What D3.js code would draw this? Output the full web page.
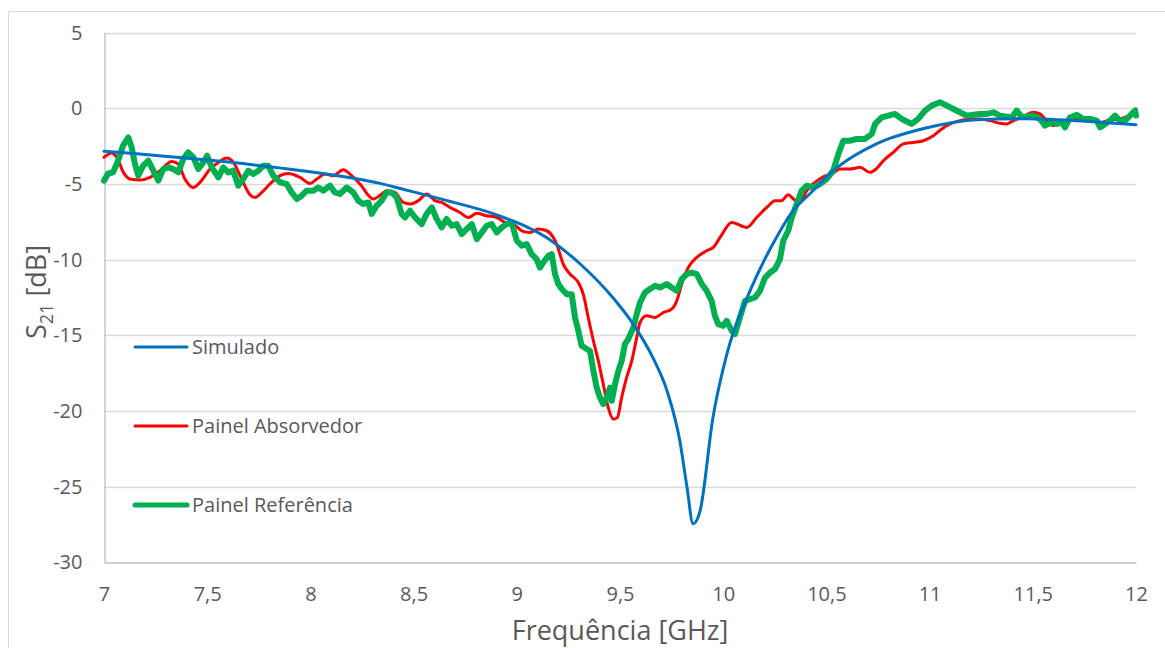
<!DOCTYPE html>
<html>
<head>
<meta charset="utf-8">
<script src="https://cdn.jsdelivr.net/npm/d3@7"></script>
<style>
  body { margin: 0; background: #fff; }
  text { font-family: "Open Sans", sans-serif; fill: #595959; }
</style>
</head>
<body>
<div id="vis"></div>
<script>
// chart data (frequency in GHz, S21 in dB)
var xTicks = [7, 7.5, 8, 8.5, 9, 9.5, 10, 10.5, 11, 11.5, 12];
var yTicks = [5, 0, -5, -10, -15, -20, -25, -30];
var seriesNames = ["Simulado", "Painel Absorvedor", "Painel Referência"];

var simulado = [
  [7.0,-2.84],[7.5,-3.42],[7.95,-4.1],[8.2,-4.6],[8.337,-4.96],[8.45,-5.35],[8.662,-6.1],[8.885,-6.96],
  [9.146,-8.55],[9.306,-10.27],[9.466,-12.52],[9.563,-14.24],[9.66,-16.49],[9.728,-18.67],
  [9.79,-21.98],[9.825,-25.08],[9.854,-27.46],[9.888,-26.6],[9.95,-20.46],[10.018,-16.22],
  [10.13,-12.06],[10.241,-8.95],[10.338,-6.77],[10.42,-5.64],[10.551,-3.92],[10.745,-2.33],
  [10.987,-1.28],[11.23,-0.75],[11.472,-0.68],[11.792,-0.88],[12.0,-1.08]
];

var absorvedor = [
  [7.0,-3.24],[7.037,-2.95],[7.062,-3.24],[7.094,-4.23],[7.126,-4.67],[7.174,-4.74],[7.223,-4.56],
  [7.271,-4.12],[7.328,-3.51],[7.36,-3.68],[7.392,-4.67],[7.433,-5.23],[7.465,-4.89],[7.514,-4.01],
  [7.554,-3.57],[7.595,-3.28],[7.627,-3.57],[7.667,-4.67],[7.707,-5.71],[7.732,-5.89],[7.764,-5.56],
  [7.804,-5.0],[7.853,-4.45],[7.893,-4.3],[7.95,-4.56],[7.998,-4.96],[8.031,-4.67],[8.071,-4.34],
  [8.111,-4.45],[8.159,-4.05],[8.2,-4.45],[8.24,-5.0],[8.305,-5.99],[8.346,-5.66],[8.37,-5.44],
  [8.41,-5.56],[8.45,-6.22],[8.483,-6.32],[8.523,-6.1],[8.564,-5.66],[8.604,-6.1],[8.636,-6.22],
  [8.676,-6.55],[8.725,-6.88],[8.765,-7.21],[8.806,-6.94],[8.854,-7.1],[8.903,-7.21],[8.943,-7.54],
  [8.983,-7.65],[9.024,-8.09],[9.064,-8.2],[9.104,-7.98],[9.145,-8.09],[9.177,-8.53],[9.193,-8.97],
  [9.225,-10.29],[9.258,-10.95],[9.298,-11.51],[9.322,-12.28],[9.346,-13.82],[9.371,-15.36],
  [9.395,-16.69],[9.419,-18.23],[9.443,-19.78],[9.468,-20.54],[9.487,-20.44],[9.508,-19.11],
  [9.532,-17.79],[9.557,-16.69],[9.581,-15.15],[9.597,-14.15],[9.629,-13.71],[9.67,-13.82],
  [9.71,-13.49],[9.75,-13.27],[9.775,-12.72],[9.799,-11.61],[9.831,-10.52],[9.872,-9.85],
  [9.92,-9.41],[9.952,-9.19],[9.985,-8.53],[10.041,-7.54],[10.114,-7.87],[10.162,-7.21],
  [10.211,-6.55],[10.251,-6.1],[10.283,-6.1],[10.315,-5.71],[10.34,-5.99],[10.372,-6.22],
  [10.405,-5.44],[10.445,-4.89],[10.485,-4.52],[10.526,-4.34],[10.566,-4.01],[10.614,-4.01],
  [10.663,-3.9],[10.711,-4.23],[10.745,-3.95],[10.776,-3.46],[10.824,-2.91],[10.873,-2.35],
  [10.921,-2.25],[10.97,-2.14],[11.018,-1.81],[11.059,-1.36],[11.099,-1.03],[11.147,-0.81],
  [11.196,-0.7],[11.244,-0.7],[11.293,-0.81],[11.341,-0.99],[11.374,-1.03],[11.406,-0.81],
  [11.454,-0.55],[11.502,-0.26],[11.535,-0.37],[11.567,-0.81],[11.599,-1.14],[11.632,-0.93],
  [11.68,-0.81],[11.729,-0.7],[11.777,-0.77],[11.826,-0.93],[11.874,-0.77],[11.922,-0.7],
  [11.971,-0.42],[12.0,-0.04]
];

var referencia = [
  [7.0,-4.78],[7.019,-4.32],[7.044,-4.23],[7.068,-3.46],[7.092,-2.47],[7.118,-1.92],[7.134,-2.58],
  [7.15,-3.68],[7.166,-4.45],[7.19,-3.79],[7.215,-3.46],[7.239,-4.12],[7.263,-4.78],[7.287,-4.01],
  [7.312,-3.9],[7.336,-4.01],[7.36,-4.23],[7.384,-3.35],[7.408,-2.91],[7.433,-3.24],[7.457,-4.01],
  [7.481,-3.57],[7.5,-3.13],[7.522,-3.9],[7.554,-4.56],[7.578,-3.9],[7.602,-4.23],[7.626,-4.12],
  [7.651,-5.11],[7.675,-4.67],[7.699,-4.12],[7.723,-4.34],[7.748,-4.12],[7.772,-3.79],[7.796,-3.79],
  [7.82,-4.45],[7.853,-4.89],[7.885,-5.0],[7.909,-5.56],[7.934,-5.99],[7.958,-5.77],[7.982,-5.44],
  [8.014,-5.44],[8.038,-5.23],[8.063,-5.44],[8.095,-5.11],[8.119,-5.56],[8.143,-5.66],[8.176,-5.23],
  [8.208,-5.56],[8.232,-6.1],[8.256,-6.32],[8.281,-6.22],[8.297,-6.98],[8.321,-6.44],[8.345,-6.1],
  [8.37,-5.56],[8.394,-5.56],[8.418,-5.89],[8.442,-6.98],[8.458,-7.21],[8.483,-6.77],[8.507,-7.21],
  [8.539,-7.65],[8.563,-6.98],[8.588,-6.55],[8.612,-7.31],[8.636,-7.87],[8.66,-7.31],[8.685,-7.76],
  [8.709,-7.65],[8.733,-8.31],[8.757,-7.98],[8.782,-7.65],[8.806,-8.64],[8.83,-8.2],[8.854,-7.76],
  [8.878,-7.65],[8.903,-8.2],[8.927,-7.87],[8.951,-7.65],[8.975,-7.54],[9.0,-8.75],[9.024,-9.08],
  [9.048,-8.97],[9.072,-9.63],[9.096,-9.96],[9.112,-10.52],[9.128,-10.19],[9.153,-9.74],[9.169,-9.63],
  [9.185,-10.95],[9.201,-11.61],[9.218,-11.94],[9.242,-12.28],[9.266,-12.28],[9.282,-13.82],
  [9.298,-14.7],[9.314,-15.69],[9.339,-15.91],[9.355,-16.03],[9.371,-17.35],[9.387,-18.45],
  [9.403,-19.11],[9.419,-19.55],[9.436,-19.11],[9.452,-18.45],[9.46,-19.33],[9.476,-18.23],
  [9.492,-17.35],[9.508,-16.69],[9.524,-15.58],[9.54,-15.25],[9.565,-14.48],[9.581,-13.6],
  [9.597,-12.83],[9.621,-12.17],[9.645,-11.94],[9.67,-11.73],[9.694,-11.84],[9.726,-11.61],
  [9.75,-11.84],[9.775,-12.06],[9.799,-11.28],[9.823,-10.95],[9.847,-10.85],[9.872,-10.95],
  [9.896,-11.61],[9.92,-12.06],[9.944,-12.72],[9.96,-13.71],[9.976,-14.26],[10.0,-14.37],
  [10.017,-14.04],[10.041,-14.7],[10.057,-14.92],[10.081,-13.82],[10.106,-12.72],[10.13,-12.61],
  [10.154,-12.5],[10.178,-12.06],[10.203,-11.18],[10.227,-10.85],[10.251,-10.62],[10.275,-9.96],
  [10.291,-8.75],[10.315,-8.09],[10.332,-7.21],[10.356,-6.32],[10.38,-5.44],[10.405,-5.11],
  [10.437,-5.23],[10.469,-5.0],[10.501,-4.67],[10.533,-4.12],[10.558,-3.02],[10.582,-2.14],
  [10.614,-2.14],[10.647,-2.02],[10.687,-2.02],[10.72,-1.69],[10.736,-1.03],[10.768,-0.6],
  [10.8,-0.48],[10.832,-0.37],[10.865,-0.7],[10.913,-1.03],[10.945,-0.7],[10.978,-0.15],
  [11.01,0.18],[11.05,0.4],[11.083,0.18],[11.115,-0.04],[11.147,-0.26],[11.18,-0.48],[11.212,-0.42],
  [11.244,-0.37],[11.277,-0.37],[11.309,-0.26],[11.341,-0.48],[11.374,-0.55],[11.398,-0.6],
  [11.422,-0.15],[11.446,-0.55],[11.47,-0.55],[11.502,-0.48],[11.535,-0.7],[11.559,-1.14],
  [11.591,-0.93],[11.616,-1.03],[11.64,-0.93],[11.656,-1.26],[11.68,-0.6],[11.713,-0.42],
  [11.745,-0.7],[11.777,-0.7],[11.81,-0.81],[11.826,-1.26],[11.85,-1.03],[11.874,-0.81],
  [11.898,-0.48],[11.922,-0.81],[11.947,-0.81],[11.971,-0.48],[11.995,-0.15],[12.0,-0.48]
];

// SVG geometry
var width = 1165;
var height = 648;
var plot = { left: 104, right: 1136, top: 32.7, bottom: 562.3 };
var colors = ["#0070c0", "#ff0000", "#00b050"];
var widths = [3, 3, 6];

var locale = d3.formatLocale({ decimal: ",", thousands: ".", grouping: [3], currency: ["", ""], minus: "-" });
var fmt = locale.format("~g");

var x = d3.scaleLinear().domain([7, 12]).range([plot.left, plot.right]);
var y = d3.scaleLinear().domain([-30, 5]).range([plot.bottom, plot.top]);

var svg = d3.select("#vis")
  .append("svg")
  .attr("width", width)
  .attr("height", height);

// outer chart border
svg.append("rect")
  .attr("x", 8.5).attr("y", 11.5)
  .attr("width", 1170).attr("height", 660)
  .attr("fill", "none")
  .attr("stroke", "#d9d9d9");

// horizontal gridlines
svg.append("g")
  .selectAll("line")
  .data(yTicks.filter(function(d) { return d > -30; }))
  .enter().append("line")
  .attr("x1", plot.left).attr("x2", plot.right)
  .attr("y1", function(d) { return Math.round(y(d)) + 0.5; })
  .attr("y2", function(d) { return Math.round(y(d)) + 0.5; })
  .attr("stroke", "#d9d9d9")
  .attr("stroke-width", 1.3);

// axes
var xAxis = svg.append("g")
  .attr("transform", "translate(0," + (Math.round(plot.bottom) + 0.5) + ")")
  .call(d3.axisBottom(x).tickValues(xTicks).tickFormat(fmt).tickSize(0).tickPadding(24));
xAxis.select(".domain").attr("stroke", "#bfbfbf").attr("stroke-width", 1.3);
xAxis.selectAll("text").style("font-size", "20px").attr("font-family", null);

var yAxis = svg.append("g")
  .attr("transform", "translate(" + (plot.left + 0.5) + ",0)")
  .call(d3.axisLeft(y).tickValues(yTicks).tickFormat(fmt).tickSize(0).tickPadding(22));
yAxis.select(".domain").attr("stroke", "#bfbfbf").attr("stroke-width", 1.3);
yAxis.selectAll("text").style("font-size", "20px").attr("font-family", null);

// series lines
var line = d3.line()
  .x(function(d) { return x(d[0]); })
  .y(function(d) { return y(d[1]); });

var allSeries = [simulado, absorvedor, referencia];
var curves = [d3.curveMonotoneX, d3.curveMonotoneX, d3.curveLinear];

[1, 2, 0].forEach(function(i) {
  svg.append("path")
    .datum(allSeries[i])
    .attr("fill", "none")
    .attr("stroke", colors[i])
    .attr("stroke-width", widths[i])
    .attr("stroke-linejoin", "round")
    .attr("stroke-linecap", "round")
    .attr("d", line.curve(curves[i]));
});

// legend
var legendY = [347, 426, 505];
var legend = svg.append("g");
seriesNames.forEach(function(name, i) {
  legend.append("line")
    .attr("x1", 135).attr("x2", 187)
    .attr("y1", legendY[i]).attr("y2", legendY[i])
    .attr("stroke", colors[i])
    .attr("stroke-width", i == 2 ? 5 : 3)
    .attr("stroke-linecap", "round");
  legend.append("text")
    .attr("x", 192).attr("y", legendY[i])
    .attr("dy", "0.35em")
    .style("font-size", "20px")
    .text(name);
});

// axis titles
svg.append("text")
  .attr("x", 620).attr("y", 640)
  .attr("text-anchor", "middle")
  .style("font-size", "27px")
  .text("Frequência [GHz]");

var yTitle = svg.append("text")
  .attr("transform", "translate(46,292) rotate(-90)")
  .attr("text-anchor", "middle")
  .style("font-size", "27px");
yTitle.append("tspan").text("S");
yTitle.append("tspan").attr("dy", 7).style("font-size", "18px").text("21");
yTitle.append("tspan").attr("dy", -7).text(" [dB]");
</script>
</body>
</html>
